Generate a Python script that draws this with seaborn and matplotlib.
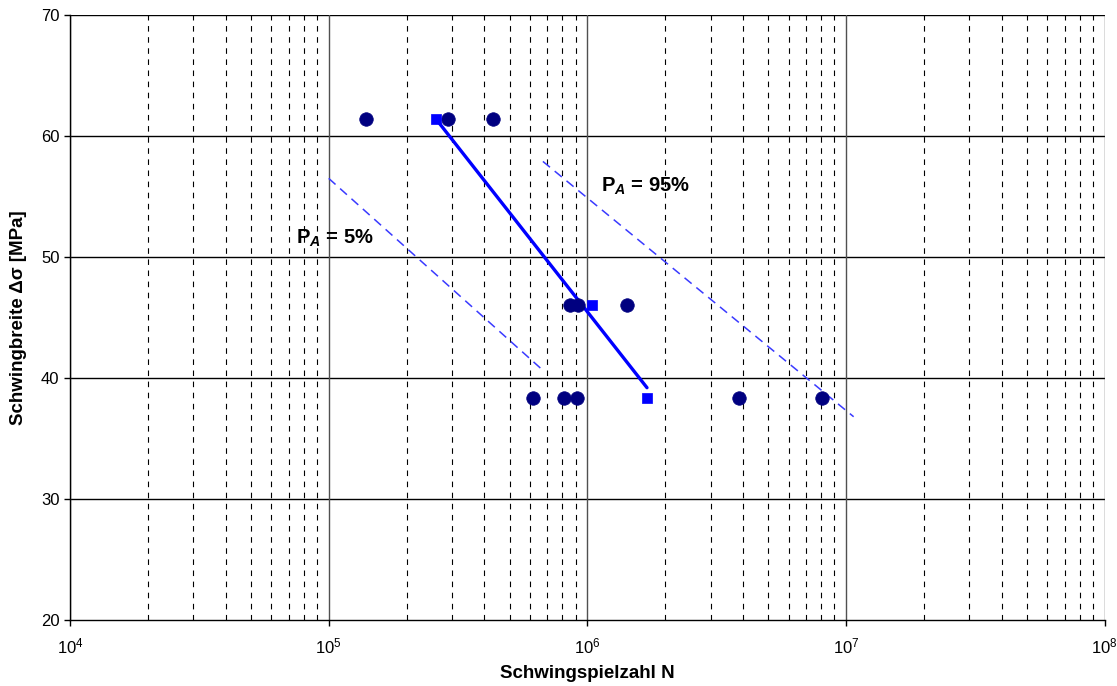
import numpy as np
import pandas as pd
import matplotlib.pyplot as plt
import seaborn as sns
from matplotlib.ticker import LogLocator, FixedLocator

# %% data
# single test results (circles)
test_n = [1.39e5, 2.89e5, 4.31e5,
          8.56e5, 9.18e5, 1.42e6,
          6.14e5, 8.10e5, 9.08e5, 3.85e6, 8.05e6]
test_s = [61.4, 61.4, 61.4,
          46.0, 46.0, 46.0,
          38.35, 38.35, 38.35, 38.35, 38.35]

# mean values per stress level (squares)
mean_n = [2.60e5, 1.04e6, 1.70e6]
mean_s = [61.4, 46.0, 38.35]

# regression line P_A = 50%
reg_n = [2.60e5, 1.70e6]
reg_s = [61.4, 39.2]

# scatter bands
p5_n = [1.0e5, 6.6e5]
p5_s = [56.5, 40.8]
p95_n = [6.73e5, 1.07e7]
p95_s = [57.9, 36.8]

# %% plot
sns.set_style("white")
plt.rcParams["font.family"] = ["Liberation Sans", "DejaVu Sans"]
plt.rcParams["text.color"] = "black"
plt.rcParams["axes.labelcolor"] = "black"
plt.rcParams["mathtext.fontset"] = "custom"
plt.rcParams["mathtext.rm"] = "Liberation Sans"
plt.rcParams["mathtext.it"] = "Liberation Sans:italic:bold"
plt.rcParams["mathtext.bf"] = "Liberation Sans:bold"

fig = plt.figure(figsize=(11.17, 6.86), dpi=100)
ax = fig.add_axes([0.0627, 0.0962, 0.9263, 0.8819])
ax.set_xscale("log")
ax.set_xlim(1e4, 1e8)
ax.set_ylim(20, 70)

# grid lines
for y in [30, 40, 50, 60, 70]:
    ax.axhline(y, color="black", linewidth=1, zorder=1)
for e in range(4, 9):
    ax.axvline(10 ** e, color="#505050", linewidth=1, zorder=1)
    if e < 8:
        for m in range(2, 10):
            ax.axvline(m * 10 ** e, color="black", linewidth=0.8,
                       linestyle=(0, (5, 5)), zorder=1)

sns.lineplot(x=p5_n, y=p5_s, ax=ax, color="#3a3aff", linewidth=1.1,
             linestyle=(0, (6, 4)), zorder=3)
sns.lineplot(x=p95_n, y=p95_s, ax=ax, color="#3a3aff", linewidth=1.1,
             linestyle=(0, (6, 4)), zorder=3)
sns.lineplot(x=reg_n, y=reg_s, ax=ax, color="#0000ff", linewidth=2.4,
             zorder=4)

sns.scatterplot(x=test_n, y=test_s, ax=ax, color="#000080", s=95,
                marker="o", edgecolor="#000080", linewidth=0.5, zorder=5)
sns.scatterplot(x=mean_n, y=mean_s, ax=ax, color="#0000ff", s=50,
                marker="s", edgecolor="#0000ff", linewidth=0.5, zorder=6)

ax.text(1.13e6, 55.8, r"P$_{\mathit{A}}$ = 95%", fontsize=14.5,
        fontweight="bold", ha="left", va="center", color="black")
ax.text(7.5e4, 51.55, r"P$_{\mathit{A}}$ = 5%", fontsize=14.5,
        fontweight="bold", ha="left", va="center", color="black")

# ticks
ax.xaxis.set_major_locator(FixedLocator([1e4, 1e5, 1e6, 1e7, 1e8]))
ax.xaxis.set_minor_locator(LogLocator(base=10, subs=[]))
ax.set_yticks([20, 30, 40, 50, 60, 70])
ax.tick_params(axis="both", which="major", direction="out", length=4,
               width=1, labelsize=12, colors="black", bottom=True, left=True)
ax.tick_params(axis="x", pad=8)

for side in ["left", "bottom"]:
    ax.spines[side].set_color("black")
    ax.spines[side].set_linewidth(1)
for side in ["top", "right"]:
    ax.spines[side].set_visible(False)

ax.set_xlabel("Schwingspielzahl N", fontsize=13.5, fontweight="bold",
              labelpad=6, color="black")
ax.set_ylabel("Schwingbreite Δσ [MPa]", fontsize=13.5, fontweight="bold",
              labelpad=10, color="black")

plt.savefig("out.png", dpi=100)
